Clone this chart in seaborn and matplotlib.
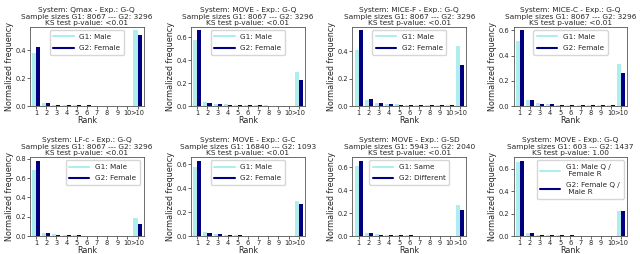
import numpy as np
import pandas as pd
import seaborn as sns
import matplotlib.pyplot as plt
from matplotlib.lines import Line2D

# Rangs
ranks = ['1', '2', '3', '4', '5', '6', '7', '8', '9', '10', '>10']

titles = [
    "System: Qmax - Exp.: G-Q\nSample sizes G1: 8067 --- G2: 3296\nKS test p-value: <0.01",
    "System: MOVE - Exp.: G-Q\nSample sizes G1: 8067 --- G2: 3296\nKS test p-value: <0.01",
    "System: MICE-F - Exp.: G-Q\nSample sizes G1: 8067 --- G2: 3296\nKS test p-value: <0.01",
    "System: MICE-C - Exp.: G-Q\nSample sizes G1: 8067 --- G2: 3296\nKS test p-value: <0.01",
    "System: LF-c - Exp.: G-Q\nSample sizes G1: 8067 --- G2: 3296\nKS test p-value: <0.01",
    "System: MOVE - Exp.: G-C\nSample sizes G1: 16840 --- G2: 1093\nKS test p-value: <0.01",
    "System: MOVE - Exp.: G-SD\nSample sizes G1: 5943 --- G2: 2040\nKS test p-value: <0.01",
    "System: MOVE - Exp.: G-Q\nSample sizes G1: 603 --- G2: 1437\nKS test p-value: 1.00",
]

g1_labels = ['G1: Male'] * 6 + ['G1: Same', 'G1: Male Q /\n Female R']
g2_labels = ['G2: Female'] * 6 + ['G2: Different', 'G2: Female Q /\n Male R']

# Fréquences normalisées
qmax_g1 = [0.38, 0.02, 0.01, 0.006, 0.004, 0.003, 0.002, 0.002, 0.002, 0.001, 0.54]
qmax_g2 = [0.42, 0.02, 0.01, 0.008, 0.007, 0.004, 0.003, 0.002, 0.002, 0.001, 0.51]
move_gq_g1 = [0.58, 0.035, 0.02, 0.015, 0.01, 0.008, 0.006, 0.005, 0.004, 0.003, 0.30]
move_gq_g2 = [0.66, 0.03, 0.018, 0.013, 0.01, 0.008, 0.006, 0.004, 0.004, 0.003, 0.23]
micef_g1 = [0.41, 0.045, 0.022, 0.018, 0.012, 0.01, 0.008, 0.007, 0.006, 0.006, 0.44]
micef_g2 = [0.55, 0.05, 0.022, 0.015, 0.01, 0.008, 0.008, 0.006, 0.005, 0.006, 0.30]
micec_g1 = [0.52, 0.045, 0.025, 0.018, 0.012, 0.01, 0.008, 0.007, 0.006, 0.005, 0.33]
micec_g2 = [0.60, 0.05, 0.02, 0.014, 0.01, 0.008, 0.007, 0.006, 0.006, 0.005, 0.26]
lfc_g1 = [0.68, 0.035, 0.02, 0.01, 0.008, 0.005, 0.004, 0.003, 0.003, 0.002, 0.19]
lfc_g2 = [0.78, 0.03, 0.015, 0.01, 0.01, 0.005, 0.004, 0.004, 0.003, 0.002, 0.125]
move_gc_g1 = [0.58, 0.035, 0.02, 0.012, 0.01, 0.006, 0.005, 0.004, 0.003, 0.003, 0.29]
move_gc_g2 = [0.63, 0.03, 0.018, 0.01, 0.008, 0.005, 0.004, 0.005, 0.002, 0.002, 0.27]
move_gsd_g1 = [0.61, 0.03, 0.018, 0.012, 0.01, 0.007, 0.005, 0.004, 0.003, 0.003, 0.275]
move_gsd_g2 = [0.66, 0.03, 0.015, 0.012, 0.01, 0.008, 0.005, 0.005, 0.003, 0.003, 0.225]
move_small_g1 = [0.66, 0.03, 0.015, 0.012, 0.01, 0.006, 0.005, 0.004, 0.003, 0.002, 0.225]
move_small_g2 = [0.67, 0.03, 0.015, 0.012, 0.01, 0.008, 0.005, 0.004, 0.003, 0.002, 0.225]

series = [
    (qmax_g1, qmax_g2), (move_gq_g1, move_gq_g2), (micef_g1, micef_g2), (micec_g1, micec_g2),
    (lfc_g1, lfc_g2), (move_gc_g1, move_gc_g2), (move_gsd_g1, move_gsd_g2), (move_small_g1, move_small_g2),
]
legend_locs = ['upper center'] * 4 + ['upper right', 'upper center', 'upper center', 'upper right']

c1 = '#afeeee'
c2 = '#000080'

sns.set_style('ticks')
plt.rcParams['font.family'] = ['DejaVu Sans']

fig, axes = plt.subplots(2, 4, figsize=(6.4, 2.54), dpi=100)
plt.subplots_adjust(left=0.047, right=0.98, top=0.895, bottom=0.07, wspace=0.42, hspace=0.64)

for i, ax in enumerate(axes.flat):
    g1, g2 = series[i]
    df = pd.DataFrame({
        'rank': ranks + ranks,
        'group': ['G1'] * len(ranks) + ['G2'] * len(ranks),
        'freq': g1 + g2,
    })
    sns.barplot(data=df, x='rank', y='freq', hue='group', order=ranks,
                hue_order=['G1', 'G2'], palette={'G1': c1, 'G2': c2},
                width=0.8, ax=ax, legend=False, saturation=1, linewidth=0)
    ax.set_title(titles[i], fontsize=5.3, pad=1.0, linespacing=1.1)
    ax.set_xlabel('Rank', fontsize=5.8, labelpad=0)
    ax.set_ylabel('Normalized frequency', fontsize=5.8, labelpad=1)
    ax.tick_params(axis='both', labelsize=4.8, length=2, width=0.5, pad=1)
    ax.set_xlim(-0.6, 10.6)
    for s in ax.spines.values():
        s.set_linewidth(0.6)
        s.set_color('#555555')
    handles = [Line2D([0], [0], color=c1, lw=1.5), Line2D([0], [0], color=c2, lw=1.5)]
    ax.legend(handles, [g1_labels[i], g2_labels[i]], loc=legend_locs[i], fontsize=5.2,
              handlelength=2.8, frameon=True, borderpad=0.5, labelspacing=0.7)

plt.savefig('out.png', dpi=100)
